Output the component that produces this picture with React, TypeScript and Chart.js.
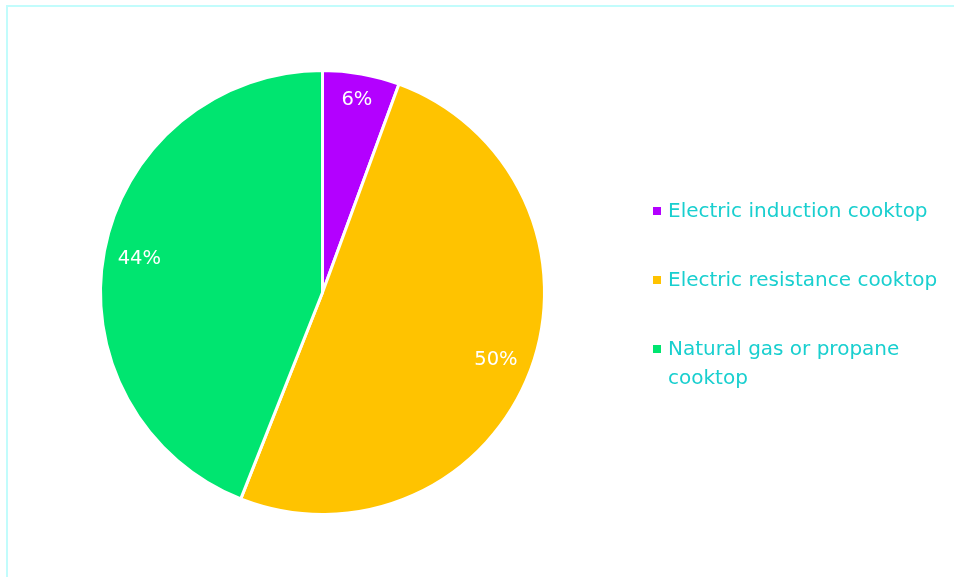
import React, { useEffect, useRef } from "react";
import { Chart, registerables } from "chart.js";

Chart.register(...registerables);

const categories = [
  "Electric induction cooktop",
  "Electric resistance cooktop",
  "Natural gas or propane cooktop",
];
const shares = [5.6, 50.4, 44.0];
const shareLabels = ["6%", "50%", "44%"];
const sliceColors = ["#b300ff", "#ffc300", "#00e570"];

const FONT = '"DejaVu Sans", sans-serif';
const TEXT_COLOR = "#19cfcf";

const framePlugin = {
  id: "frame",
  beforeDraw(chart: any) {
    const ctx = chart.ctx;
    ctx.save();
    ctx.fillStyle = "#ffffff";
    ctx.fillRect(0, 0, chart.width, chart.height);
    ctx.strokeStyle = "#c2fcfc";
    ctx.lineWidth = 2;
    ctx.strokeRect(7, 6, chart.width + 20, chart.height + 20);
    ctx.restore();
  },
};

const sliceLabelPlugin = {
  id: "sliceLabels",
  afterDatasetsDraw(chart: any) {
    const ctx = chart.ctx;
    const meta = chart.getDatasetMeta(0);
    ctx.save();
    ctx.fillStyle = "#ffffff";
    ctx.font = `19.5px ${FONT}`;
    ctx.textAlign = "center";
    ctx.textBaseline = "middle";
    meta.data.forEach((arc: any, i: number) => {
      const mid = (arc.startAngle + arc.endAngle) / 2;
      const txt = shareLabels[i];
      const hw = ctx.measureText(txt).width / 2;
      const hh = 11;
      const c = Math.cos(mid);
      const s = Math.sin(mid);
      const extent = hw * Math.abs(c) + hh * Math.abs(s);
      const r = arc.outerRadius * 0.945 - extent;
      ctx.fillText(txt, arc.x + c * r, arc.y + s * r + 1);
    });
    ctx.restore();
  },
};

const legendPlugin = {
  id: "sideLegend",
  afterDraw(chart: any) {
    const ctx = chart.ctx;
    const labels: string[] = chart.data.labels;
    const colors: string[] = chart.data.datasets[0].backgroundColor;
    const textX = 668;
    const boxX = 653;
    const maxW = chart.width - textX - 8;
    const firstY = 211;
    const itemGap = 69;
    const lineH = 28.5;
    ctx.save();
    ctx.font = `20px ${FONT}`;
    ctx.textBaseline = "middle";
    ctx.textAlign = "left";
    labels.forEach((label, i) => {
      const y = firstY + i * itemGap;
      ctx.fillStyle = colors[i];
      ctx.fillRect(boxX, y - 4, 8, 8);
      const words = label.split(" ");
      const lines: string[] = [];
      let cur = "";
      words.forEach((w) => {
        const test = cur ? cur + " " + w : w;
        if (ctx.measureText(test).width > maxW && cur) {
          lines.push(cur);
          cur = w;
        } else cur = test;
      });
      if (cur) lines.push(cur);
      ctx.fillStyle = TEXT_COLOR;
      lines.forEach((ln, j) => ctx.fillText(ln, textX, y + 1 + j * lineH));
    });
    ctx.restore();
  },
};

export default function App() {
  const ref = useRef<HTMLCanvasElement | null>(null);
  useEffect(() => {
    document.body.style.margin = "0";
    const chart = new Chart(ref.current as HTMLCanvasElement, {
      type: "pie",
      data: {
        labels: categories,
        datasets: [
          {
            data: shares,
            backgroundColor: sliceColors,
            borderColor: "#ffffff",
            borderWidth: 3,
          },
        ],
      },
      options: {
        responsive: false,
        animation: false,
        layout: { padding: { top: 69, bottom: 61, left: 99, right: 408 } },
        plugins: {
          legend: { display: false },
          tooltip: { enabled: false },
        },
      },
      plugins: [framePlugin, sliceLabelPlugin, legendPlugin],
    });
    return () => chart.destroy();
  }, []);
  return (
    <div style={{ position: "fixed", left: 0, top: 0, width: 954, height: 577 }}>
      <canvas ref={ref} width={954} height={577} />
    </div>
  );
}
